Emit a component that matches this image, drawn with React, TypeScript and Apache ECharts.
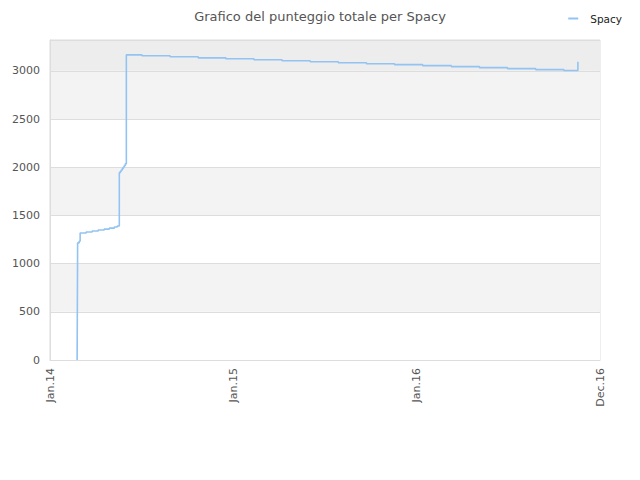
import React, { useEffect, useRef } from 'react';
import * as echarts from 'echarts';

// dates where the total score changed, and the score from that day on
const changeDates = [
  '2014-02-24', '2014-02-25', '2014-02-28', '2014-03-02', '2014-03-14', '2014-03-26',
  '2014-04-07', '2014-04-19', '2014-04-29', '2014-05-09', '2014-05-15',
  '2014-05-19', '2014-05-21', '2014-05-23', '2014-05-25', '2014-05-27', '2014-05-29',
  '2014-05-31', '2014-06-02', '2014-07-03', '2014-08-28', '2014-10-23', '2014-12-17',
  '2015-02-11', '2015-04-08', '2015-06-03', '2015-07-29', '2015-09-23', '2015-11-18',
  '2016-01-13', '2016-03-10', '2016-05-05', '2016-06-30', '2016-08-25', '2016-10-20',
  '2016-11-17',
];
const totalScores = [
  0, 1215, 1232, 1318, 1328, 1338,
  1348, 1358, 1368, 1380, 1391,
  1944, 1958, 1972, 1988, 2003, 2018,
  2035, 3166, 3156, 3146, 3135, 3125,
  3115, 3105, 3095, 3084, 3074, 3064,
  3054, 3044, 3033, 3023, 3013, 3003,
  3094,
];
const xLabelDates = ['2014-01-01', '2015-01-01', '2016-01-01', '2016-12-31'];
const monthNames = ['Jan', 'Feb', 'Mar', 'Apr', 'May', 'Jun', 'Jul', 'Aug', 'Sep', 'Oct', 'Nov', 'Dec'];
const bandColors = ['#ffffff', '#f3f3f3', '#ffffff', '#f3f3f3', '#ffffff', '#f3f3f3', '#ededed'];

const toTime = (d: string) => {
  const [y, m, day] = d.split('-').map(Number);
  return new Date(y, m - 1, day).getTime();
};

const App: React.FC = () => {
  const chartRef = useRef<HTMLDivElement>(null);

  useEffect(() => {
    if (!chartRef.current) return;
    const chart = echarts.init(chartRef.current, undefined, { renderer: 'svg' });
    const font = 'DejaVu Sans, sans-serif';

    chart.setOption({
      animation: false,
      title: {
        text: 'Grafico del punteggio totale per Spacy',
        left: 'center',
        top: 5,
        textStyle: { fontSize: 13, fontWeight: 'normal', color: '#555', fontFamily: font },
      },
      legend: {
        right: 13,
        top: 8,
        icon: 'rect',
        itemWidth: 10,
        itemHeight: 2,
        textStyle: { fontSize: 10.5, color: '#222', fontFamily: font, padding: [0, 0, 0, 7] },
        data: ['Spacy'],
      },
      grid: {
        left: 50,
        right: 40,
        top: 40,
        bottom: 120,
        show: true,
        borderColor: '#ddd',
        borderWidth: 1,
        containLabel: false,
      },
      xAxis: {
        // dates as milliseconds on a value axis, so the labels can sit on chosen days
        type: 'value',
        min: toTime('2014-01-01'),
        max: toTime('2016-12-31'),
        axisLine: { lineStyle: { color: '#ddd' } },
        axisTick: { show: false },
        splitLine: { show: false },
        axisLabel: {
          customValues: xLabelDates.map(toTime),
          rotate: 90,
          margin: 8,
          fontSize: 11,
          color: '#555',
          fontFamily: font,
          formatter: (v: number) => {
            const d = new Date(v);
            return `${monthNames[d.getMonth()]}.${String(d.getFullYear()).slice(2)}`;
          },
        },
      },
      yAxis: {
        type: 'value',
        min: 0,
        max: 3320,
        interval: 500,
        axisLine: { show: true, lineStyle: { color: '#ddd' } },
        axisTick: { show: false },
        splitLine: { show: true, lineStyle: { color: '#ddd' } },
        splitArea: { show: true, areaStyle: { color: bandColors } },
        axisLabel: {
          fontSize: 11,
          color: '#555',
          fontFamily: font,
          margin: 10,
          formatter: (v: number) => (v % 500 === 0 ? String(v) : ''),
        },
      },
      series: [
        {
          name: 'Spacy',
          type: 'line',
          step: 'end',
          symbol: 'none',
          color: '#92c3f2',
          lineStyle: { width: 1.6, color: '#92c3f2' },
          data: changeDates.map((d, i) => [toTime(d), totalScores[i]]),
        },
      ],
    });

    return () => {
      chart.dispose();
    };
  }, []);

  return (
    <div
      ref={chartRef}
      style={{ position: 'fixed', left: 0, top: 0, width: '640px', height: '480px', background: '#fff' }}
    />
  );
};

export default App;
